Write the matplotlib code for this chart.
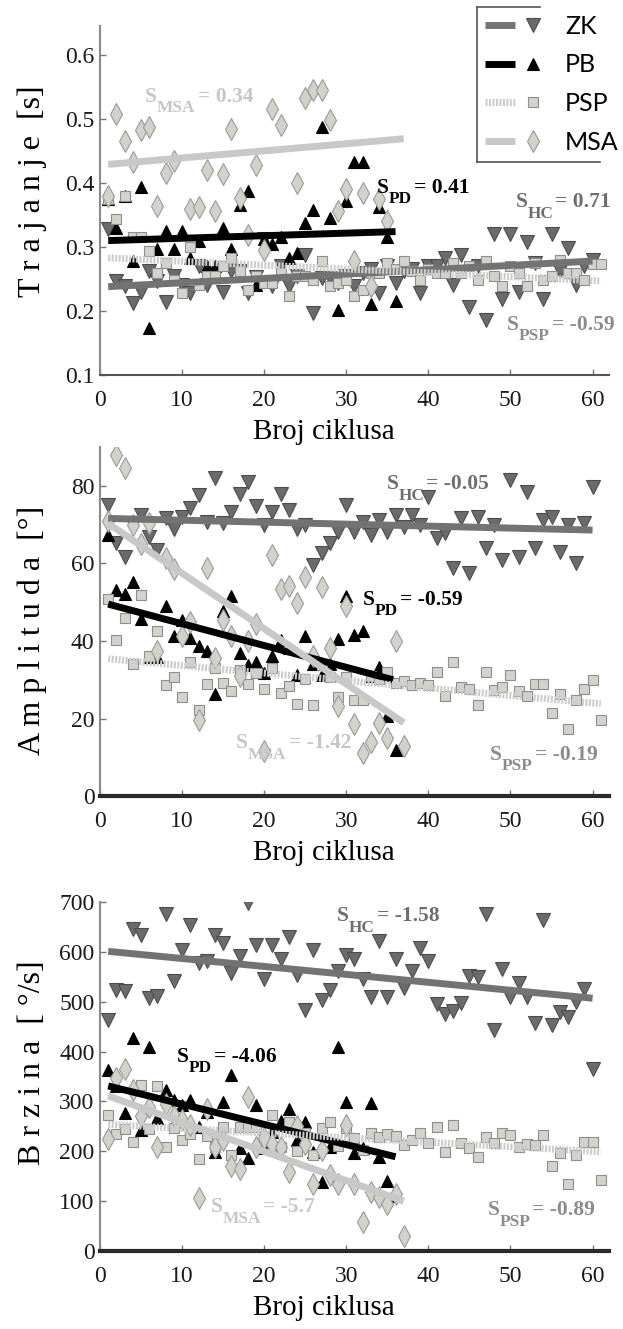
import numpy as np
import matplotlib
matplotlib.use('Agg')
import matplotlib.pyplot as plt
from matplotlib.lines import Line2D
from matplotlib.legend_handler import HandlerTuple

plt.rcParams['font.family'] = 'Liberation Serif'

nan = np.nan

# ---- data (x = cycle number 1..N) ----
groups = ['ZK', 'PB', 'PSP', 'MSA']

# duration [s]
zk_dur = [.328, .247, .239, .213, .229, .262, .247, .214, .254, .241,
          .228, .270, .241, .254, .229, .262, .263, .228, .253, .312,
          .239, .270, .239, .254, .288, .197, .252, .252, .244, .255,
          .239, .260, .265, .228, .270, .244, .262, .265, .228, .270,
          .270, .283, .241, .288, .207, .270, .186, .320, .218, .320,
          .230, .307, .275, .218, .320, .262, .298, .241, .270, .280]
pb_dur = [.375, .330, .380, .278, .394, .174, .297, .325, .297, .325,
          .282, .310, .270, .270, .330, .297, .365, .387, .240, .312,
          .305, .315, .282, .290, .337, .357, .487, .346, .201, .372,
          .432, .432, .211, .362, .315, .215]
psp_dur = [.375, .343, .380, .315, .315, .294, .260, .275, .249, .228,
           .300, .240, .254, .254, .270, .283, .262, .233, .254, .244,
           .244, .260, .223, .254, .255, .249, .278, .239, .244, .249,
           .223, .233, .260, .260, .275, .265, .278, .262, .249, .265,
           .260, .260, .275, .260, .270, .249, .278, .254, .239, .270,
           .260, .239, .275, .249, .254, .280, .260, .260, .249, .273,
           .273]
msa_dur = [.380, .508, .465, .432, .482, .488, .364, .415, .434, nan,
           .359, .363, .420, .356, .414, .484, .377, .319, .428, .296,
           .515, .490, nan, .400, .533, .545, .545, .498, .356, .390,
           .278, .384, .239, .375, .340]

# amplitude [deg]
zk_amp = [75.0, 65.2, 61.7, 70.0, 72.5, 66.9, 63.5, 71.6, 69.0, 71.9,
          74.2, 77.6, 70.8, 81.9, 70.3, 73.3, 78.0, 81.0, 74.8, 69.9,
          73.3, 78.0, 73.8, 69.0, 69.9, 59.6, 62.6, 65.2, 68.2, 75.0,
          68.2, 70.8, 67.3, 71.2, 68.2, 72.5, 69.5, 72.5, 69.9, 77.2,
          66.5, 67.8, 58.7, 71.6, 57.5, 72.0, 63.9, 69.9, 60.9, 81.6,
          61.7, 78.5, 63.9, 71.2, 72.0, 63.0, 69.9, 60.0, 70.3, 79.8]
pb_amp = [67.3, 53.2, 52.1, 55.3, 45.6, 35.8, 35.8, 48.9, 41.2, 45.5,
          40.7, 38.6, 37.3, 26.2, 47.6, 51.6, 36.9, 33.9, 34.7, 31.7,
          36.0, 40.3, 38.2, 31.3, 41.2, 34.1, 31.3, 34.1, 40.5, 51.6,
          41.6, 42.5, 30.9, 33.4, 20.6, 12.0]
psp_amp = [50.8, 40.3, 45.9, 34.1, 51.9, 36.0, 42.5, 28.7, 30.7, 25.6,
           34.7, 22.1, 28.9, 33.0, 29.2, 27.0, 32.6, 28.9, 31.7, 27.7,
           33.0, 26.6, 28.5, 23.8, 30.2, 23.6, 33.9, 30.7, 25.6, 30.7,
           24.9, 24.9, 30.9, 30.2, 32.0, 29.2, 29.6, 28.7, 29.2, 28.7,
           32.0, 25.7, 34.5, 28.1, 27.6, 23.4, 32.0, 27.3, 28.1, 31.3,
           27.0, 25.7, 29.0, 29.0, 21.4, 26.4, 17.3, 24.9, 27.6, 30.0,
           19.7]
msa_amp = [71.0, 87.9, 84.7, 69.9, 65.0, 70.3, 37.3, 61.3, 58.5, 41.2,
           45.0, 19.5, 58.9, 35.6, 45.5, 41.2, 30.9, 39.9, 44.3, 11.6,
           62.2, 53.3, 54.2, 49.9, 56.6, 36.0, 53.9, 38.2, 23.2, 48.9,
           18.7, 11.1, 13.9, 18.9, 15.0, 39.9, 12.9]

# velocity [deg/s]
zk_vel = [463, 524, 522, 646, 634, 507, 512, 675, 541, 603,
          653, 577, 581, 634, 618, 557, 592, 698, 614, 545,
          614, 585, 630, 554, 484, 603, 504, 524, 561, 594,
          585, 545, 510, 622, 509, 585, 527, 561, 607, 581,
          496, 476, 482, 498, 552, 549, 675, 443, 565, 510,
          537, 509, 458, 664, 453, 480, 470, 500, 525, 366]
pb_vel = [363, 330, 276, 427, 242, 410, 266, 323, 303, 293,
          302, 249, 279, 199, 299, 353, 206, 186, 293, 206,
          239, 261, 284, 222, 259, 199, 139, 209, 409, 299,
          197, 206, 297, 188, 141, 110]
psp_vel = [273, 234, 244, 219, 333, 244, 330, 209, 246, 222,
           234, 184, 230, 208, 249, 192, 249, 249, 249, 224,
           273, 208, 259, 201, 236, 192, 246, 259, 210, 246,
           226, 202, 237, 229, 234, 230, 212, 222, 236, 217,
           249, 199, 253, 217, 206, 189, 229, 216, 237, 232,
           208, 214, 212, 232, 170, 196, 135, 192, 219, 219,
           143]
msa_vel = [224, 346, 366, 323, 271, 288, 209, 295, 271, 263,
           252, 107, 284, 208, 222, 170, 165, 309, 209, 226,
           214, 209, 159, 250, 214, 135, 202, 152, 135, 252,
           135, 58, 119, 109, 95, 115, 31]

# regression lines: (x_start, x_end, y_start, y_end)
dur_fit = {'ZK': (1, 60, .238, .278), 'PB': (1, 36, .310, .324),
           'PSP': (1, 61, .283, .247), 'MSA': (1, 37, .429, .469)}
amp_fit = {'ZK': (1, 60, 71.6, 68.6), 'PB': (1, 35.7, 49.5, 30.0),
           'PSP': (1, 61, 35.4, 23.8), 'MSA': (1, 37, 70.3, 18.9)}
vel_fit = {'ZK': (1, 60, 601, 507), 'PB': (1, 36, 331, 189),
           'PSP': (1, 61, 254, 199), 'MSA': (1, 37, 311, 100)}

# slope labels: (subscript, value, x, y of the S baseline)
dur_notes = [('MSA', '0.34', 5.5, .527), ('PD', '0.41', 33.7, .385),
             ('HC', '0.71', 50.6, .362), ('PSP', '-0.59', 49.6, .171)]
amp_notes = [('HC', '-0.05', 34.9, 79.1), ('PD', '-0.59', 32.0, 49.3),
             ('MSA', '-1.42', 16.6, 12.4), ('PSP', '-0.19', 47.5, 9.4)]
vel_notes = [('HC', '-1.58', 28.9, 661), ('PD', '-4.06', 9.4, 380),
             ('MSA', '-5.7', 13.5, 78), ('PSP', '-0.89', 47.2, 72)]

# ---- styles ----
mark_style = {
    'ZK': dict(marker='v', mfc='#6b6b6b', mec='#4c4c4c', ms=9.5),
    'PB': dict(marker='^', mfc='black', mec='black', ms=9),
    'PSP': dict(marker='s', mfc='#d3d3cb', mec='#8e8e8e', ms=7),
    'MSA': dict(marker='d', mfc='#d2d2ca', mec='#9a9a9a', ms=11),
}
line_style = {
    'ZK': dict(color='#737373', lw=5, ls='-'),
    'PB': dict(color='black', lw=5, ls='-'),
    'PSP': dict(color='#cdcdcd', lw=5, ls=(0, (0.3, 0.2))),
    'MSA': dict(color='#c8c8c8', lw=5, ls='-'),
}
note_color = {'HC': '#6e6e6e', 'PD': 'black', 'PSP': '#8c8c8c',
              'MSA': '#c6c6c6'}
note_fs = 15.5


def slope_note(ax, key, val, tx, ty):
    kw = dict(color=note_color[key], fontweight='bold', zorder=5)
    t1 = ax.text(tx, ty, 'S', fontsize=note_fs, ha='left', va='baseline',
                 **kw)
    t2 = ax.annotate(key, xy=(1, 0), xycoords=t1, xytext=(0, -4),
                     textcoords='offset points', fontsize=note_fs * 0.8,
                     ha='left', va='baseline', **kw)
    ax.annotate('= ' + val, xy=(1, 0), xycoords=(t2, t1), xytext=(1.5, 0),
                textcoords='offset points', fontsize=note_fs, ha='left',
                va='bottom', **kw)


fig = plt.figure(figsize=(6.23, 13.29), dpi=100)

panels = [
    (dict(ZK=zk_dur, PB=pb_dur, PSP=psp_dur, MSA=msa_dur), dur_fit, dur_notes,
     (0.1, 0.645), np.arange(0.1, 0.61, 0.1), 'T r a j a n j e  [s]',
     [0.1605, 0.7178, 0.817, 0.2626], 0.527, False),
    (dict(ZK=zk_amp, PB=pb_amp, PSP=psp_amp, MSA=msa_amp), amp_fit, amp_notes,
     (0, 90), np.arange(0, 81, 20), 'A m p l i t u d a  [°]',
     [0.1605, 0.4010, 0.817, 0.2626], 0.476, True),
    (dict(ZK=zk_vel, PB=pb_vel, PSP=psp_vel, MSA=msa_vel), vel_fit, vel_notes,
     (0, 700), np.arange(0, 701, 100), 'B r z i n a  [ °/s]',
     [0.1605, 0.0587, 0.817, 0.2626], 0.54, True),
]

for data, fits, notes, ylim, yticks, ylabel, rect, ylab_y, thick in panels:
    ax = fig.add_axes(rect)
    for g in groups:
        x0, x1, y0, y1 = fits[g]
        ax.plot([x0, x1], [y0, y1], zorder=3, solid_capstyle='butt',
                **line_style[g])
    for g in groups:
        vals = data[g]
        ax.plot(np.arange(1, len(vals) + 1), vals, ls='none', mew=0.8,
                zorder=2, **mark_style[g])
    for key, val, tx, ty in notes:
        slope_note(ax, key, val, tx, ty)
    ax.set_xlim(0, 62)
    ax.set_ylim(*ylim)
    ax.set_xticks(range(0, 61, 10))
    ax.set_yticks(yticks)
    if ylim[1] < 1:
        ax.set_yticklabels(['%.1f' % t for t in yticks])
    ax.tick_params(direction='in', length=4, width=1, color='#777777',
                   labelsize=17, labelcolor='#1a1a1a')
    ax.tick_params(axis='x', pad=11)
    ax.tick_params(axis='y', pad=4)
    for s in ('top', 'right'):
        ax.spines[s].set_visible(False)
    ax.spines['left'].set_color('#8a8a8a')
    ax.spines['left'].set_linewidth(1.5)
    if thick:
        ax.spines['bottom'].set_color('#2a2a2a')
        ax.spines['bottom'].set_linewidth(3)
    else:
        ax.spines['bottom'].set_color('#555555')
        ax.spines['bottom'].set_linewidth(1.5)
    ax.set_xlabel('Broj ciklusa', fontsize=21)
    ax.xaxis.set_label_coords(0.44, -0.125)
    ax.set_ylabel(ylabel, fontsize=23)
    ax.yaxis.set_label_coords(-0.105, ylab_y)

# legend
handles = []
for g in groups:
    ln = Line2D([], [], solid_capstyle='butt', **line_style[g])
    mk = Line2D([], [], ls='none', mew=0.8, **mark_style[g])
    handles.append((ln, mk))
fig.legend(handles, groups, handler_map={tuple: HandlerTuple(ndivide=None, pad=0.1)},
           loc='upper left', bbox_to_anchor=(485 / 623, 1 - 15 / 1329),
           frameon=False, prop={'family': 'Lato', 'size': 18},
           handlelength=2.5, handletextpad=0.7, labelspacing=0.62,
           borderpad=0, borderaxespad=0)
# partial legend frame (cropped in the source)
fx = 477 / 623
fig.add_artist(Line2D([fx, fx], [1 - 7 / 1329, 1 - 162 / 1329],
                      transform=fig.transFigure, color='#555555', lw=1.2))
fig.add_artist(Line2D([fx, 540 / 623], [1 - 7 / 1329, 1 - 7 / 1329],
                      transform=fig.transFigure, color='#555555', lw=1.2))
fig.add_artist(Line2D([fx, 600 / 623], [1 - 162 / 1329, 1 - 162 / 1329],
                      transform=fig.transFigure, color='#555555', lw=1.2))

fig.savefig('out.png', dpi=100)
